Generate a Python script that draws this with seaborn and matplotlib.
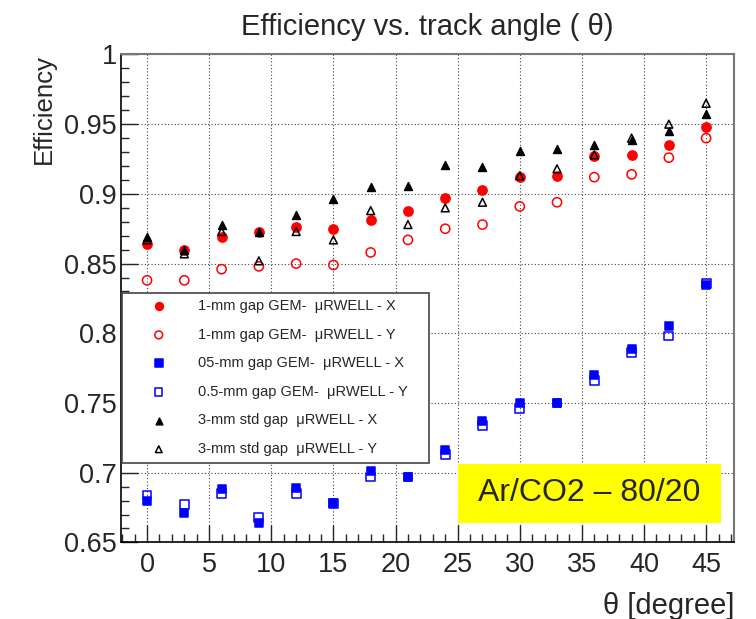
import matplotlib
matplotlib.use("Agg")
import matplotlib.pyplot as plt
import seaborn as sns
from matplotlib.patches import Rectangle
from matplotlib.ticker import MultipleLocator

# data
theta = [0, 3, 6, 9, 12, 15, 18, 21, 24, 27, 30, 33, 36, 39, 42, 45]
gem1_x = [0.864, 0.860, 0.869, 0.873, 0.876, 0.875, 0.881, 0.888,
          0.897, 0.903, 0.912, 0.913, 0.927, 0.928, 0.935, 0.948]
gem1_y = [0.838, 0.838, 0.846, 0.848, 0.850, 0.849, 0.858, 0.867,
          0.875, 0.878, 0.891, 0.894, 0.912, 0.914, 0.926, 0.940]
gem05_x = [0.680, 0.671, 0.688, 0.664, 0.689, 0.678, 0.701, 0.697,
           0.716, 0.737, 0.750, 0.750, 0.770, 0.789, 0.805, 0.835]
gem05_y = [0.684, 0.677, 0.685, 0.668, 0.685, 0.678, 0.697, 0.697,
           0.713, 0.734, 0.746, 0.750, 0.766, 0.786, 0.798, 0.836]
std3_x = [0.869, 0.860, 0.878, 0.873, 0.885, 0.896, 0.905, 0.906,
          0.921, 0.919, 0.931, 0.932, 0.935, 0.939, 0.945, 0.957]
std3_y = [0.867, 0.857, 0.873, 0.852, 0.873, 0.867, 0.888, 0.878,
          0.890, 0.894, 0.913, 0.918, 0.928, 0.940, 0.950, 0.965]

labels = ["1-mm gap GEM-  \u03bcRWELL - X",
          "1-mm gap GEM-  \u03bcRWELL - Y",
          "05-mm gap GEM-  \u03bcRWELL - X",
          "0.5-mm gap GEM-  \u03bcRWELL - Y",
          "3-mm std gap  \u03bcRWELL - X",
          "3-mm std gap  \u03bcRWELL - Y"]

sns.set_style("white")
plt.rcParams['font.family'] = ['Liberation Sans', 'DejaVu Sans']

fig = plt.figure(figsize=(7.56, 6.19), dpi=100)
ax = fig.add_axes([0.160, 0.1237, 0.811, 0.7883])

# series: (values, marker, face, edge, size)
series = [
    (gem1_x, 'o', 'red', 'red', 44),
    (gem1_y, 'o', 'none', 'red', 44),
    (gem05_y, 's', 'none', 'blue', 40),
    (gem05_x, 's', 'blue', 'blue', 40),
    (std3_x, '^', 'black', 'black', 32),
    (std3_y, '^', 'none', 'black', 32),
]
order = [0, 1, 3, 2, 4, 5]
handles = []
for vals, mk, fc, ec, s in series:
    sns.scatterplot(x=theta, y=vals, marker=mk, s=s, ax=ax,
                    facecolor=fc, edgecolor=ec, linewidth=1.1, zorder=3)
    handles.append(ax.collections[-1])
handles = [handles[i] for i in order]

ax.set_xlim(-2.1, 47.25)
ax.set_ylim(0.65, 1.0)
ax.xaxis.set_major_locator(MultipleLocator(5))
ax.xaxis.set_minor_locator(MultipleLocator(1))
ax.yaxis.set_minor_locator(MultipleLocator(0.01))
ax.set_yticks([0.65, 0.7, 0.75, 0.8, 0.85, 0.9, 0.95, 1.0])
ax.set_yticklabels(["0.65", "0.7", "0.75", "0.8", "0.85", "0.9", "0.95", "1"])
ax.tick_params(axis='both', which='major', direction='in', length=12, width=1,
               labelsize=19.5, top=False, right=False, bottom=True, left=True)
ax.tick_params(axis='x', which='major', pad=7)
ax.tick_params(axis='y', which='major', pad=3)
ax.tick_params(axis='both', which='minor', direction='in', length=6, width=1,
               top=False, right=False, bottom=True, left=True)
ax.grid(True, which='major', linestyle=(0, (1, 2)), color='#444444', linewidth=0.8)

for side in ['left', 'bottom']:
    ax.spines[side].set_color('black')
    ax.spines[side].set_linewidth(1.2)
for side in ['top', 'right']:
    ax.spines[side].set_color('#777777')
    ax.spines[side].set_linewidth(1.5)

ax.set_title("Efficiency vs. track angle ( \u03b8)", fontsize=21, pad=14)
ax.set_xlabel("\u03b8 [degree]", fontsize=21, loc='right', labelpad=10)
ax.set_ylabel("Efficiency", fontsize=18.5, loc='top', labelpad=6)

leg = ax.legend(handles, labels, loc='upper left',
                bbox_to_anchor=(0.001, 0.162, 0.501, 0.35), mode='expand',
                fontsize=10.5, frameon=True, fancybox=False, framealpha=1,
                borderpad=0.45, labelspacing=1.0, handlelength=4.2,
                handletextpad=0.6, borderaxespad=0, markerscale=0.85)
leg.get_frame().set_edgecolor('#444444')
leg.get_frame().set_linewidth(1.2)
leg.set_zorder(5)

# yellow label box
ax.add_patch(Rectangle((0.549, 0.0404), 0.430, 0.1203, transform=ax.transAxes,
                       facecolor='#ffff00', edgecolor='none', zorder=4))
ax.text(0.764, 0.1005, "Ar/CO2 \u2013 80/20", transform=ax.transAxes,
        ha='center', va='center', fontsize=23, zorder=5)

plt.savefig("out.png", dpi=100)
